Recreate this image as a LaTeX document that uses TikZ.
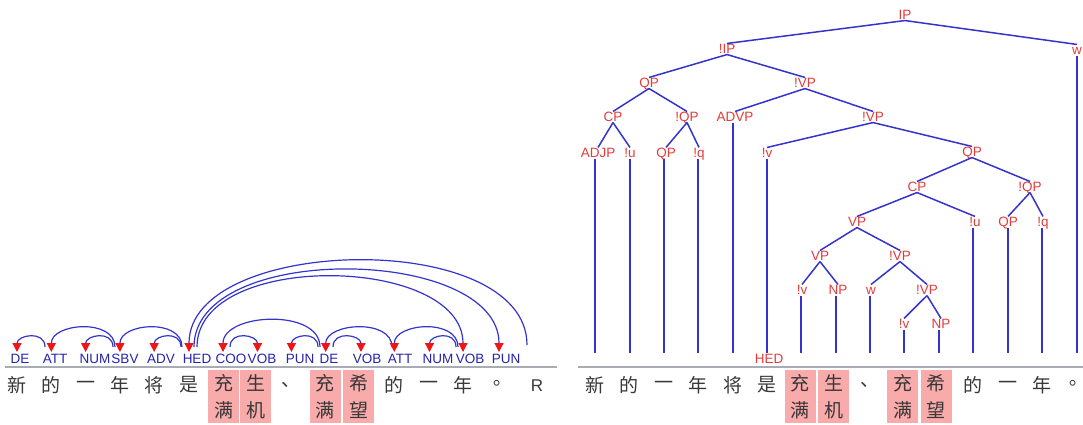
\documentclass[tikz,border=0pt]{standalone}
\usepackage{fontspec}
\setmainfont{Liberation Sans}
\newfontfamily\cjk{Noto Sans CJK SC}
\newfontfamily\cjktc{Noto Sans CJK TC}
\usetikzlibrary{arrows.meta,calc}
\definecolor{lblblue}{HTML}{2424B0}
\definecolor{arcblue}{HTML}{3434CC}
\definecolor{treered}{HTML}{E33B3B}
\definecolor{tipred}{HTML}{F01414}
\definecolor{pinkbox}{HTML}{F9AAAA}
\definecolor{sepgray}{HTML}{A8ADB5}
\definecolor{wordgray}{HTML}{383838}
\begin{document}
\begin{tikzpicture}[x=1pt,y=-1pt,
  deplbl/.style={font=\fontsize{13.5}{13.5}\selectfont, text=lblblue, inner sep=0pt, anchor=base},
  tlbl/.style={font=\fontsize{13.5}{13.5}\selectfont, text=treered, inner sep=0.5pt, text height=9.7pt, text depth=0pt},
  cword/.style={font=\cjk\fontsize{19}{27}\selectfont, text=wordgray, inner sep=0pt},
  pword/.style={font=\cjktc\fontsize{19}{27}\selectfont, text=wordgray, inner sep=0pt},
  boxword/.style={cword, fill=pinkbox, minimum width=31pt, minimum height=53pt, align=center},
  deparc/.style={draw=arcblue, line width=1.2pt, -{Triangle[color=tipred, fill=tipred, length=9pt, width=9pt]}},
  tedge/.style={draw=arcblue, line width=1.5pt},
  tleaf/.style={draw=arcblue, line width=1.8pt},
  sepline/.style={draw=sepgray, line width=1.8pt}]
\useasboundingbox (0,0) rectangle (1083,424);

% ---------------- LEFT PANEL ----------------
\draw[sepline] (5,367) -- (557,367);

% words
\node[cword] (lw0) at (17,385) {新};
\node[cword] (lw1) at (51.3,385) {的};
\node[cword] (lw2) at (85.6,385) {一};
\node[cword] (lw3) at (119.9,385) {年};
\node[cword] (lw4) at (154.2,385) {将};
\node[cword] (lw5) at (188.5,385) {是};
\node[boxword] (lw6) at (223.5,396.5) {充\\满};
\node[boxword] (lw7) at (255.8,396.5) {生\\机};
\node[cword] (lw8) at (291.4,385) {、};
\node[boxword] (lw9) at (325,396.5) {充\\满};
\node[boxword] (lw10) at (358.5,396.5) {希\\望};
\node[cword] (lw11) at (394.3,385) {的};
\node[cword] (lw12) at (428.6,385) {一};
\node[cword] (lw13) at (462.9,385) {年};
\node[pword] (lw14) at (497.2,385) {。};
\node[font=\fontsize{17}{17}\selectfont, text=wordgray, inner sep=0pt, anchor=base] (lR) at (537,391) {R};

% dependency labels
\node[deplbl] (d0) at (20,363) {DE};
\node[deplbl] (d1) at (55,363) {ATT};
\node[deplbl] (d2) at (95,363) {NUM};
\node[deplbl] (d3) at (125,363) {SBV};
\node[deplbl] (d4) at (161,363) {ADV};
\node[deplbl] (d5) at (197,363) {HED};
\node[deplbl] (d6) at (231,363) {COO};
\node[deplbl] (d7) at (262,363) {VOB};
\node[deplbl] (d8) at (300,363) {PUN};
\node[deplbl] (d9) at (329,363) {DE};
\node[deplbl] (d10) at (367,363) {VOB};
\node[deplbl] (d11) at (400,363) {ATT};
\node[deplbl] (d12) at (438,363) {NUM};
\node[deplbl] (d13) at (470,363) {VOB};
\node[deplbl] (d14) at (506,363) {PUN};

% arrow tip points (dependents)
\coordinate (t0) at (17,352);
\coordinate (t1) at (51.3,352);
\coordinate (t2) at (85.6,352);
\coordinate (t3) at (119.9,352);
\coordinate (t4) at (154.2,352);
\coordinate (t5) at (189,352);
\coordinate (t6) at (223,352);
\coordinate (t7) at (257.5,352);
\coordinate (t8) at (291.4,352);
\coordinate (t9) at (325.7,352);
\coordinate (t10) at (361,352);
\coordinate (t11) at (394.3,352);
\coordinate (t12) at (429.5,352);
\coordinate (t13) at (463,352);
\coordinate (t14) at (499,352);
% arc start points (heads)
\coordinate (s1) at (45,347);
\coordinate (s2) at (115,347);
\coordinate (s3) at (113,347);
\coordinate (s4) at (182,347);
\coordinate (s5) at (181,347);
\coordinate (sR) at (527,345);
\coordinate (s7) at (194,347);
\coordinate (s8) at (197,347);
\coordinate (s9) at (320,347);
\coordinate (s10) at (230,347);
\coordinate (s11) at (318,347);
\coordinate (s12) at (392,347);
\coordinate (s13) at (333,347);
\coordinate (s14) at (458,347);
\coordinate (s15) at (456,347);

\draw[deparc] (s1) .. controls +(0,-17) and +(0,-17) .. (t0);
\draw[deparc] (s2) .. controls +(0,-29) and +(0,-29) .. (t1);
\draw[deparc] (s3) .. controls +(0,-17) and +(0,-17) .. (t2);
\draw[deparc] (s4) .. controls +(0,-29) and +(0,-29) .. (t3);
\draw[deparc] (s5) .. controls +(0,-17) and +(0,-17) .. (t4);
\draw[deparc] (sR) .. controls +(0,-117) and +(0,-117) .. (t5);
\draw[deparc] (s7) .. controls +(0,-106) and +(0,-106) .. (t14);
\draw[deparc] (s8) .. controls +(0,-97) and +(0,-97) .. (t13);
\draw[deparc] (s9) .. controls +(0,-39) and +(0,-39) .. (t6);
\draw[deparc] (s10) .. controls +(0,-17) and +(0,-17) .. (t7);
\draw[deparc] (s11) .. controls +(0,-17) and +(0,-17) .. (t8);
\draw[deparc] (s12) .. controls +(0,-29) and +(0,-29) .. (t9);
\draw[deparc] (s13) .. controls +(0,-17) and +(0,-17) .. (t10);
\draw[deparc] (s14) .. controls +(0,-29) and +(0,-29) .. (t11);
\draw[deparc] (s15) .. controls +(0,-17) and +(0,-17) .. (t12);

% ---------------- RIGHT PANEL ----------------
\draw[sepline] (578,367) -- (1083,367);

\node[cword] (rw0) at (595,385) {新};
\node[cword] (rw1) at (629.4,385) {的};
\node[cword] (rw2) at (663.8,385) {一};
\node[cword] (rw3) at (698.2,385) {年};
\node[cword] (rw4) at (732.6,385) {将};
\node[cword] (rw5) at (767,385) {是};
\node[boxword] (rw6) at (800,396.5) {充\\满};
\node[boxword] (rw7) at (833.5,396.5) {生\\机};
\node[cword] (rw8) at (870.2,385) {、};
\node[boxword] (rw9) at (902.5,396.5) {充\\满};
\node[boxword] (rw10) at (936,396.5) {希\\望};
\node[cword] (rw11) at (973.4,385) {的};
\node[cword] (rw12) at (1007.8,385) {一};
\node[cword] (rw13) at (1042.2,385) {年};
\node[pword] (rw14) at (1073.4,385) {。};

% leaf bottoms
\foreach \i/\x in {0/595,1/630,2/664,3/698,4/733,5/767,6/801,7/836,8/870,9/904,10/939,11/973,12/1008,13/1042,14/1077}
  \coordinate (b\i) at (\x,353);

\node[tlbl] (HED) at (769,359) {HED};

% tree nodes
\node[tlbl] (IP) at (905,15) {IP};
\node[tlbl] (w1) at (1077,50) {w};
\node[tlbl] (nIP) at (727,49) {!IP};
\node[tlbl] (QP1) at (649,83) {QP};
\node[tlbl] (nVP1) at (805,83) {!VP};
\node[tlbl] (CP1) at (613,117) {CP};
\node[tlbl] (nQP1) at (687,117) {!QP};
\node[tlbl] (ADVP) at (735,117) {ADVP};
\node[tlbl] (nVP2) at (873,117) {!VP};
\node[tlbl] (ADJP) at (598,153) {ADJP};
\node[tlbl] (nu1) at (630,153) {!u};
\node[tlbl] (QP2) at (666,153) {QP};
\node[tlbl] (nq1) at (699,153) {!q};
\node[tlbl] (nv1) at (767,153) {!v};
\node[tlbl] (QP3) at (972,152) {QP};
\node[tlbl] (CP2) at (917,187) {CP};
\node[tlbl] (nQP2) at (1030,187) {!QP};
\node[tlbl] (VP1) at (857,222) {VP};
\node[tlbl] (nu2) at (975,222) {!u};
\node[tlbl] (QP4) at (1008,222) {QP};
\node[tlbl] (nq2) at (1043,222) {!q};
\node[tlbl] (VP2) at (820,256) {VP};
\node[tlbl] (nVP3) at (900,256) {!VP};
\node[tlbl] (nv2) at (802,290) {!v};
\node[tlbl] (NP1) at (838,290) {NP};
\node[tlbl] (w2) at (871,290) {w};
\node[tlbl] (nVP4) at (927,290) {!VP};
\node[tlbl] (nv3) at (904,324) {!v};
\node[tlbl] (NP2) at (941,324) {NP};

% internal edges
\foreach \p/\c in {IP/nIP, IP/w1, nIP/QP1, nIP/nVP1, QP1/CP1, QP1/nQP1, CP1/ADJP, CP1/nu1,
  nQP1/QP2, nQP1/nq1, nVP1/ADVP, nVP1/nVP2, nVP2/nv1, nVP2/QP3, QP3/CP2, QP3/nQP2,
  CP2/VP1, CP2/nu2, nQP2/QP4, nQP2/nq2, VP1/VP2, VP1/nVP3, VP2/nv2, VP2/NP1,
  nVP3/w2, nVP3/nVP4, nVP4/nv3, nVP4/NP2}
  \draw[tedge] (\p.south) -- (\c.north);

% leaf edges
\foreach \l/\b in {ADJP/b0, nu1/b1, QP2/b2, nq1/b3, ADVP/b4, nv1/b5, nv2/b6, NP1/b7,
  w2/b8, nv3/b9, NP2/b10, nu2/b11, QP4/b12, nq2/b13, w1/b14}
  \draw[tleaf] (\b |- \l.south) -- (\b);
\end{tikzpicture}
\end{document}
